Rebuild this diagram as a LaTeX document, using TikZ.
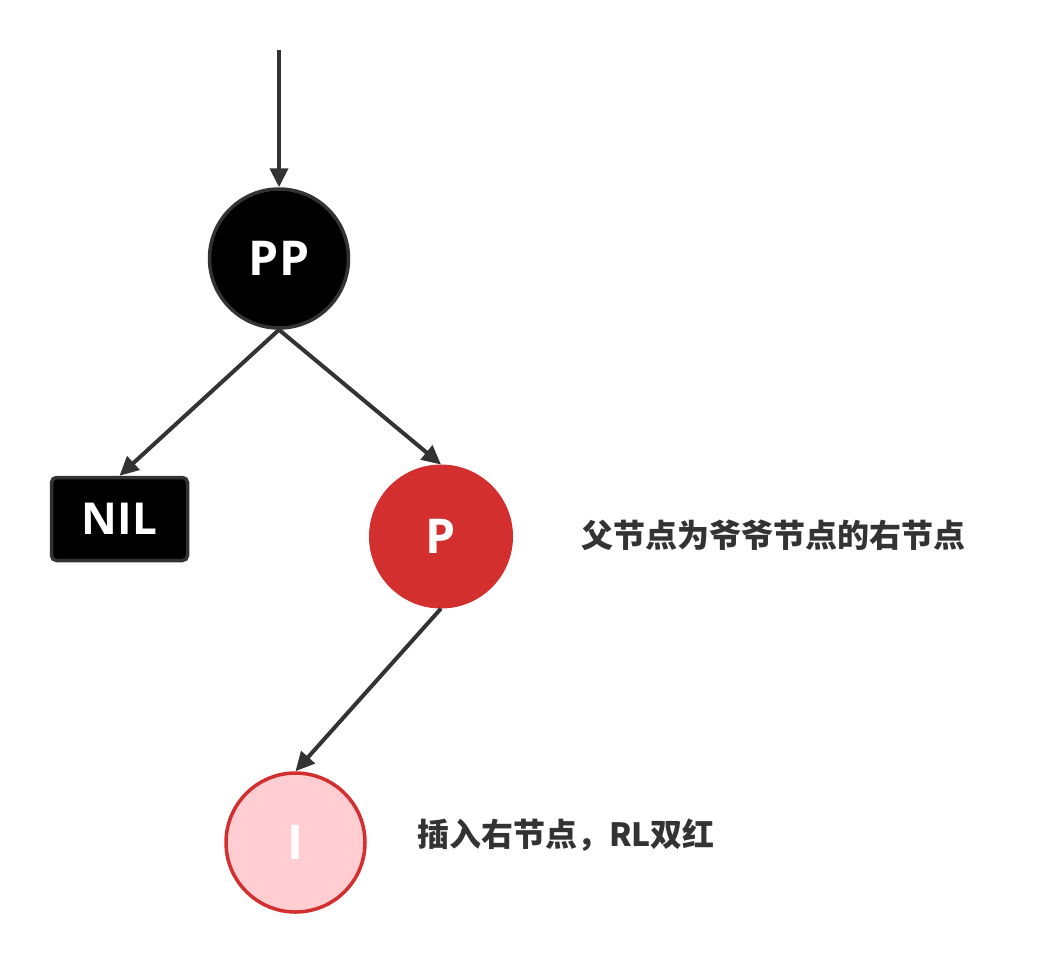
\documentclass[tikz,border=0pt]{standalone}
\usepackage{fontspec}
\setmainfont{Open Sans}
\newfontfamily\cjk{Noto Sans CJK SC}
\usetikzlibrary{arrows.meta}
\definecolor{linegray}{HTML}{333333}
\definecolor{rbred}{HTML}{D32F2F}
\definecolor{rbpink}{HTML}{FFCDD2}
\tikzset{
  edge/.style={draw=linegray, line width=4pt, -{Triangle[length=19pt,width=18pt]}},
  blacknode/.style={circle, fill=black, draw=linegray, line width=3.5pt, minimum size=139pt, inner sep=0pt, text=white, font=\fontsize{48}{52}\selectfont\bfseries},
  rednode/.style={circle, fill=rbred, draw=rbred, line width=1pt, minimum size=143pt, inner sep=0pt, text=white, font=\fontsize{48}{52}\selectfont\bfseries},
  pinknode/.style={circle, fill=rbpink, draw=rbred, line width=3.5pt, minimum size=139pt, inner sep=0pt, text=white, font=\fontsize{48}{52}\selectfont\bfseries},
  nilnode/.style={rectangle, rounded corners=5pt, fill=black, draw=linegray, line width=3.5pt, minimum width=136pt, minimum height=83pt, inner sep=0pt, text=white, font=\fontsize{44}{48}\selectfont\bfseries},
  note/.style={text=linegray, font=\cjk\fontsize{32}{36}\selectfont\bfseries, inner sep=0pt}
}
\begin{document}
\begin{tikzpicture}[x=1pt,y=-1pt]
\useasboundingbox (0,0) rectangle (1048,962);
\node[blacknode] (PP) at (279,258.5) {PP};
\node[nilnode] (NIL) at (119.5,519) {NIL};
\node[rednode] (P) at (441,536.5) {P};
\node[pinknode] (I) at (295.5,842.5) {I};
\coordinate (top) at (279,50);
\draw[edge] (top) -- (PP.north);
\draw[edge] (PP.south) -- (NIL.north);
\draw[edge] (PP.south) -- (P.north);
\draw[edge] (P.south) -- (I.north);
\node[note] (t1) at (773,535) {父节点为爷爷节点的右节点};
\node[note] (t2) at (566,835) {插入右节点，RL双红};
\end{tikzpicture}
\end{document}
